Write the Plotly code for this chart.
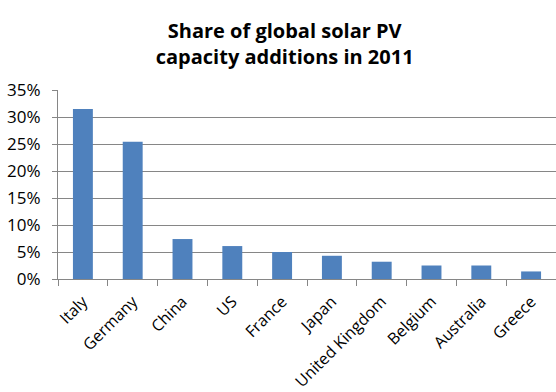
import plotly.graph_objects as go

countries = ["Italy", "Germany", "China", "US", "France", "Japan",
             "United Kingdom", "Belgium", "Australia", "Greece"]
share = [0.315, 0.254, 0.074, 0.061, 0.050, 0.043, 0.032, 0.025, 0.025, 0.014]
y_ticks = [0, 0.05, 0.10, 0.15, 0.20, 0.25, 0.30, 0.35]
y_tick_labels = ["0%", "5%", "10%", "15%", "20%", "25%", "30%", "35%"]

fig = go.Figure(go.Bar(x=countries, y=share, marker_color="#4F81BD",
                       marker_line_width=0))

fig.update_layout(
    width=556, height=392,
    margin=dict(l=58, r=0, t=90, b=113, autoexpand=False),
    paper_bgcolor="white", plot_bgcolor="white",
    bargap=0.6,
    showlegend=False,
    font=dict(family="Open Sans, Liberation Sans, sans-serif", size=16, color="black"),
    title=dict(text="<b>Share of global solar PV<br>capacity additions in 2011</b>",
               x=0.512, xanchor="center", y=0.903, yanchor="top",
               font=dict(size=20, color="black")),
)
fig.update_yaxes(range=[0, 0.35], tickvals=y_ticks, ticktext=y_tick_labels,
                 showgrid=True, gridcolor="#868686", gridwidth=1,
                 showline=True, linecolor="#868686", linewidth=1,
                 ticks="outside", ticklen=5, tickcolor="#868686",
                 ticklabelstandoff=8, automargin=False,
                 tickfont=dict(size=17),
                 zeroline=False)
fig.update_xaxes(tickangle=-45, showline=True, linecolor="#868686", linewidth=1,
                 ticks="outside", ticklen=6, tickcolor="#868686",
                 ticklabelstandoff=6,
                 tickson="boundaries", showgrid=False, automargin=False)

fig.write_html("out.html", config={"displayModeBar": False},
               post_script="document.body.style.margin='0';")
